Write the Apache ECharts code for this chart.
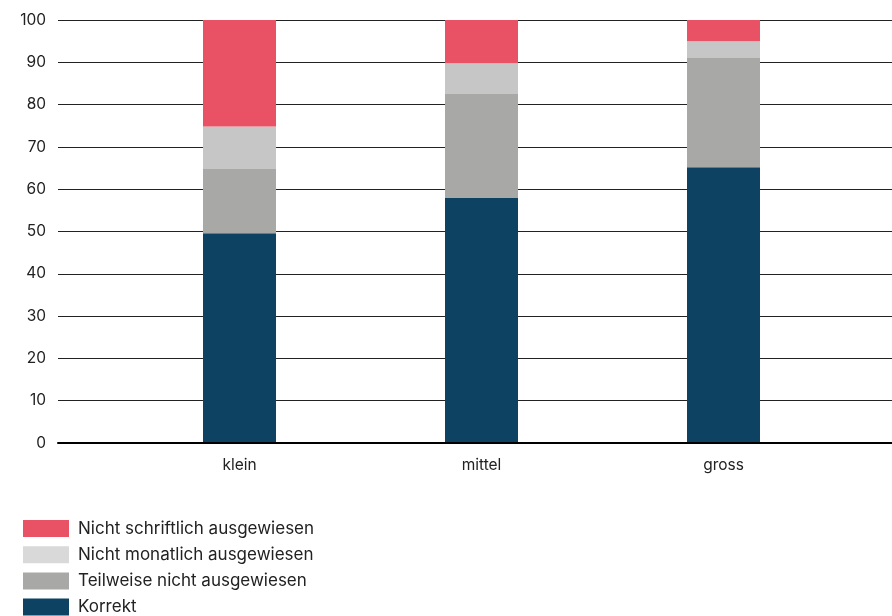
<!DOCTYPE html>
<html>
<head>
<meta charset="utf-8">
<script src="https://cdn.jsdelivr.net/npm/echarts@6/dist/echarts.min.js"></script>
<style>
  html, body { margin: 0; padding: 0; background: #fff; }
  #chart { width: 892px; height: 616px; }
</style>
</head>
<body>
<div id="chart"></div>
<script>
// Company size groups
const categories = ['klein', 'mittel', 'gross'];

// Shares in percent, stacked from bottom to top
const korrekt = [49.6, 57.9, 65.2];
const teilweise = [15.2, 24.6, 25.8];
const nichtMonatlich = [10.0, 7.3, 4.0];
const nichtSchriftlich = [25.2, 10.2, 5.0];

const seriesNames = [
  'Korrekt',
  'Teilweise nicht ausgewiesen',
  'Nicht monatlich ausgewiesen',
  'Nicht schriftlich ausgewiesen'
];

const yTicks = [0, 10, 20, 30, 40, 50, 60, 70, 80, 90, 100];

const FONT = 'Inter, "Noto Sans", sans-serif';
const TEXT = '#222';
const colors = ['#0d4262', '#a8a8a6', '#c6c6c6', '#e95265'];

const chart = echarts.init(document.getElementById('chart'), null, { renderer: 'canvas' });

const values = [korrekt, teilweise, nichtMonatlich, nichtSchriftlich];

const option = {
  animation: false,
  backgroundColor: '#fff',
  grid: [
    // full-width grid carrying the value scale and gridlines
    { left: 58, right: 0, top: 20, bottom: 173, containLabel: false },
    // narrower grid holding the bars
    { left: 118.5, right: 47.5, top: 20, bottom: 173, containLabel: false }
  ],
  xAxis: [
    {
      gridIndex: 0,
      type: 'category',
      data: [''],
      axisLine: { show: true, lineStyle: { color: '#000', width: 2 } },
      axisTick: { show: false },
      axisLabel: { show: false },
      z: 5
    },
    {
      gridIndex: 1,
      type: 'category',
      data: categories,
      axisLine: { show: false },
      axisTick: { show: false },
      axisLabel: { color: TEXT, fontFamily: FONT, fontSize: 15.5, margin: 14 }
    }
  ],
  yAxis: [
    {
      gridIndex: 0,
      type: 'value',
      min: yTicks[0],
      max: yTicks[yTicks.length - 1],
      interval: 10,
      axisLine: { show: false },
      axisTick: { show: false },
      axisLabel: { color: TEXT, fontFamily: FONT, fontSize: 15.5, margin: 12 },
      splitLine: { show: true, lineStyle: { color: '#222', width: 1 } }
    },
    {
      gridIndex: 1,
      type: 'value',
      min: yTicks[0],
      max: yTicks[yTicks.length - 1],
      interval: 10,
      show: false,
      splitLine: { show: false }
    }
  ],
  legend: {
    orient: 'vertical',
    left: 23,
    top: 520,
    padding: 0,
    itemWidth: 46,
    itemHeight: 17,
    itemGap: 9.2,
    icon: 'rect',
    textStyle: { color: TEXT, fontFamily: FONT, fontSize: 17, lineHeight: 17, padding: [0, 0, 0, 4] },
    data: [
      { name: seriesNames[3], itemStyle: { color: '#e95265' } },
      { name: seriesNames[2], itemStyle: { color: '#d9d9d9' } },
      { name: seriesNames[1], itemStyle: { color: '#a8a8a6' } },
      { name: seriesNames[0], itemStyle: { color: '#0d4262' } }
    ]
  },
  series: seriesNames.map((name, i) => ({
    name: name,
    type: 'bar',
    xAxisIndex: 1,
    yAxisIndex: 1,
    stack: 'total',
    barWidth: 73,
    data: values[i],
    itemStyle: { color: colors[i] },
    emphasis: { disabled: true },
    z: 3
  }))
};

chart.setOption(option);
</script>
</body>
</html>
